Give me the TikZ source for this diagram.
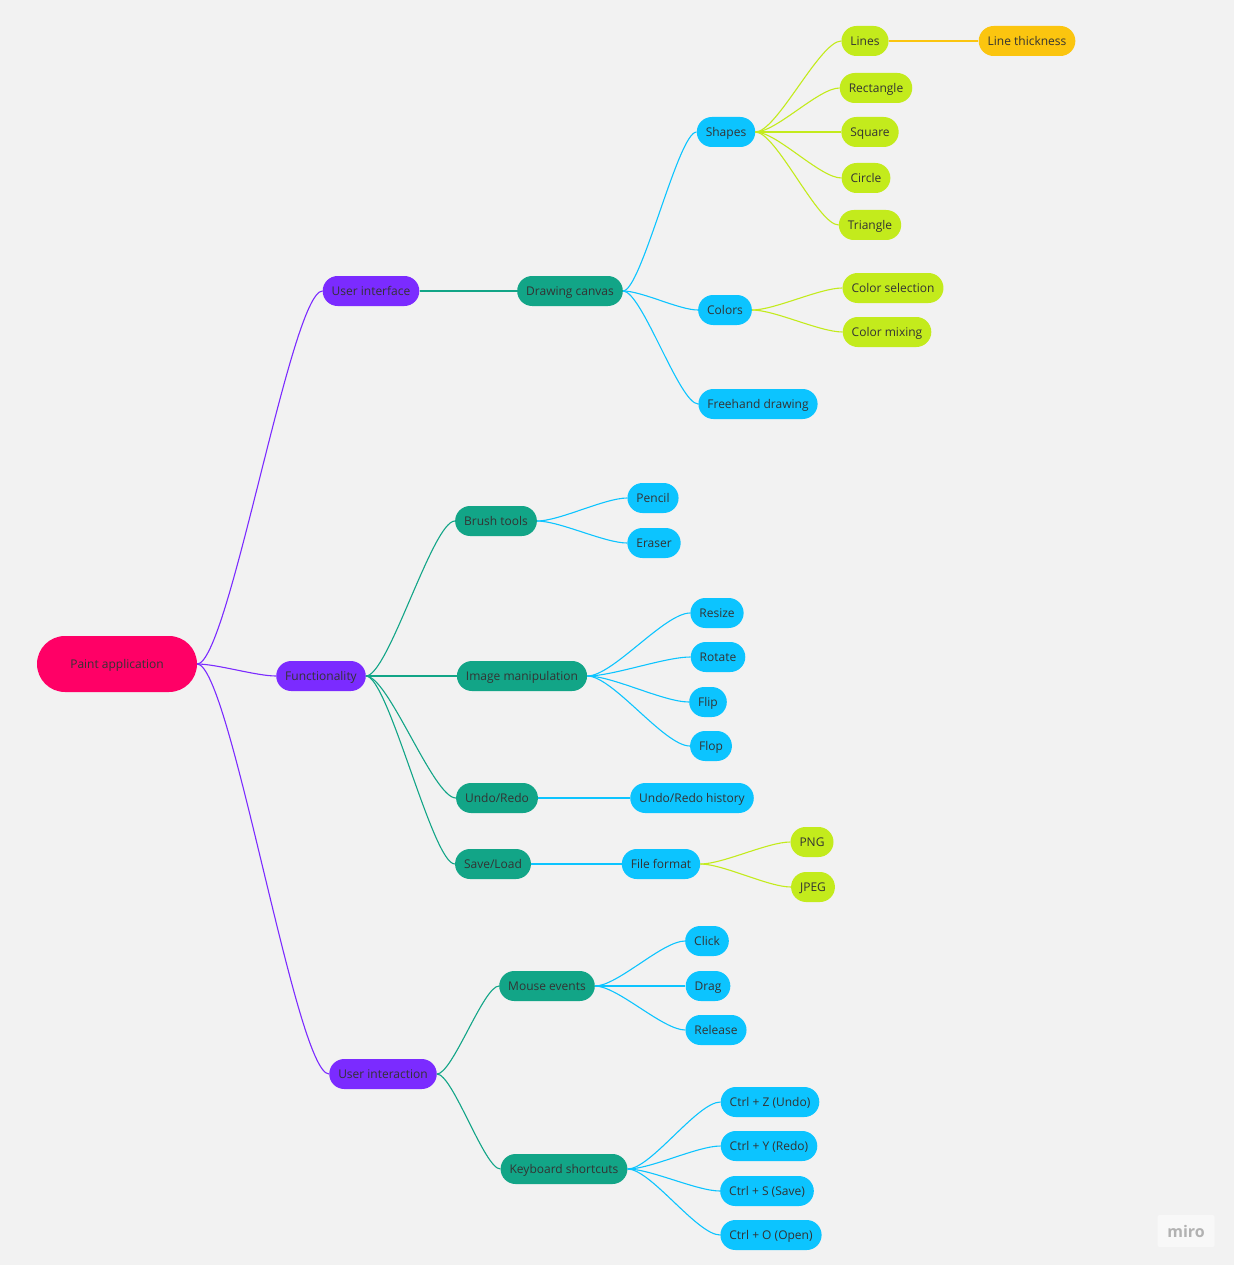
\documentclass[tikz,border=0pt]{standalone}
\usepackage{fontspec}
\setmainfont{Open Sans}
\usepackage{tikz}
\usetikzlibrary{calc}
\definecolor{fondo}{HTML}{F2F2F2}
\definecolor{rosa}{HTML}{FF0066}
\definecolor{morado}{HTML}{7B2BFF}
\definecolor{verde}{HTML}{12A587}
\definecolor{celeste}{HTML}{0CC4FF}
\definecolor{lima}{HTML}{C3EB1C}
\definecolor{ambar}{HTML}{FBC50F}

\begin{document}
\begin{tikzpicture}[x=1pt,y=-1pt,
  caja/.style={rectangle, rounded corners=15pt, minimum height=30pt, inner xsep=9pt, inner ysep=0pt,
    text height=10.6pt, text depth=2pt, text=black!80, font=\fontsize{12}{14}\selectfont},
  raiz/.style={caja, fill=rosa, rounded corners=28pt, minimum width=160pt, minimum height=56pt},
  nivA/.style={caja, fill=morado},
  nivB/.style={caja, fill=verde},
  nivC/.style={caja, fill=celeste},
  nivD/.style={caja, fill=lima},
  nivE/.style={caja, fill=ambar},
  rama/.style={line width=1.1pt}]
  % Fondo
  \fill[fondo] (0,0) rectangle (1234,1265);
  \useasboundingbox (0,0) rectangle (1234,1265);
  % Nodos
  \node[raiz] (app) at (117,664) {Paint application};
  \node[nivA] (ui)  at (371,291) {User interface};
  \node[nivA] (fun) at (321,676) {Functionality};
  \node[nivA] (uin) at (383,1074) {User interaction};
  \node[nivB] (canvas) at (570,291) {Drawing canvas};
  \node[nivB] (brush)  at (496,521) {Brush tools};
  \node[nivB] (imgman) at (522,676) {Image manipulation};
  \node[nivB] (undo)   at (497,798) {Undo/Redo};
  \node[nivB] (save)   at (493,864) {Save/Load};
  \node[nivB] (mouse)  at (547,986) {Mouse events};
  \node[nivB] (keys)   at (564,1169) {Keyboard shortcuts};
  \node[nivC] (shapes)   at (726,132) {Shapes};
  \node[nivC] (colors)   at (725,310) {Colors};
  \node[nivC] (freehand) at (758,404) {Freehand drawing};
  \node[nivC] (pencil)   at (653,498) {Pencil};
  \node[nivC] (eraser)   at (654,543) {Eraser};
  \node[nivC] (resize)   at (717,613) {Resize};
  \node[nivC] (rotate)   at (718,657) {Rotate};
  \node[nivC] (flip)     at (708,702) {Flip};
  \node[nivC] (flop)     at (711,746) {Flop};
  \node[nivC] (history)  at (692,798) {Undo/Redo history};
  \node[nivC] (fformat)  at (661,864) {File format};
  \node[nivC] (click)    at (707,941) {Click};
  \node[nivC] (drag)     at (708,986) {Drag};
  \node[nivC] (release)  at (716,1030) {Release};
  \node[nivC] (ctrlz)    at (770,1102) {Ctrl + Z (Undo)};
  \node[nivC] (ctrly)    at (769,1146) {Ctrl + Y (Redo)};
  \node[nivC] (ctrls)    at (767,1191) {Ctrl + S (Save)};
  \node[nivC] (ctrlo)    at (771,1235) {Ctrl + O (Open)};
  \node[nivD] (lines)    at (865,41) {Lines};
  \node[nivD] (rect)     at (876,88) {Rectangle};
  \node[nivD] (square)   at (870,132) {Square};
  \node[nivD] (circle)   at (866,178) {Circle};
  \node[nivD] (triangle) at (870,225) {Triangle};
  \node[nivD] (colsel)   at (893,288) {Color selection};
  \node[nivD] (colmix)   at (887,332) {Color mixing};
  \node[nivD] (png)      at (812,842) {PNG};
  \node[nivD] (jpeg)     at (813,887) {JPEG};
  \node[nivE] (thick)    at (1027,41) {Line thickness};
  % Ramas
  \foreach \a/\b/\c in {app/ui/morado, app/fun/morado, app/uin/morado,
      ui/canvas/verde, fun/brush/verde, fun/imgman/verde, fun/undo/verde, fun/save/verde,
      uin/mouse/verde, uin/keys/verde,
      canvas/shapes/celeste, canvas/colors/celeste, canvas/freehand/celeste,
      brush/pencil/celeste, brush/eraser/celeste,
      imgman/resize/celeste, imgman/rotate/celeste, imgman/flip/celeste, imgman/flop/celeste,
      undo/history/celeste, save/fformat/celeste,
      mouse/click/celeste, mouse/drag/celeste, mouse/release/celeste,
      keys/ctrlz/celeste, keys/ctrly/celeste, keys/ctrls/celeste, keys/ctrlo/celeste,
      shapes/lines/lima, shapes/rect/lima, shapes/square/lima, shapes/circle/lima, shapes/triangle/lima,
      colors/colsel/lima, colors/colmix/lima, fformat/png/lima, fformat/jpeg/lima,
      lines/thick/ambar}
    \draw[rama, \c] let \p1=(\a.east), \p2=(\b.west) in
      (\p1) .. controls ({\x1+0.25*(\x2-\x1)},\y1) and ({\x2-0.25*(\x2-\x1)},\y2) .. (\p2);
  % Marca
  \node[fill=white!50!fondo, rounded corners=2pt, minimum width=57pt, minimum height=32pt,
    text=black!30, font=\fontsize{16}{18}\selectfont\bfseries] (miro) at (1186,1231) {miro};
\end{tikzpicture}
\end{document}
